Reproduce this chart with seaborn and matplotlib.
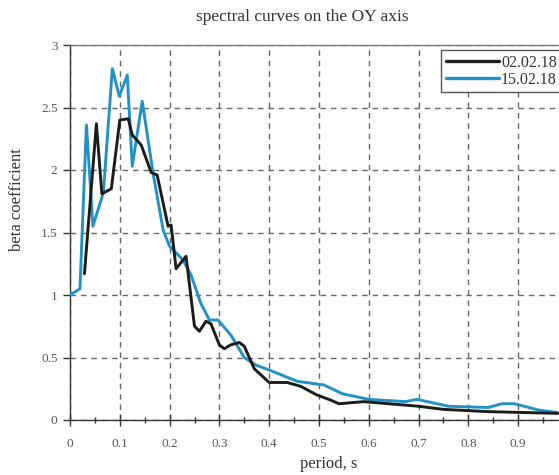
import matplotlib
matplotlib.use("Agg")
import matplotlib.pyplot as plt
import seaborn as sns
import pandas as pd
from matplotlib.ticker import MultipleLocator
from matplotlib.lines import Line2D
from matplotlib.patches import Rectangle

# ---- data ----
black_label = "02.02.18"
blue_label = "15.02.18"

black_x = [0.029, 0.053, 0.064, 0.083, 0.100, 0.117, 0.125, 0.143, 0.163, 0.175,
           0.197, 0.203, 0.213, 0.233, 0.250, 0.260, 0.273, 0.283, 0.300, 0.310,
           0.322, 0.340, 0.350, 0.370, 0.400, 0.436, 0.463, 0.496, 0.523, 0.540,
           0.590, 0.700, 0.750, 0.840, 0.980]
black_y = [1.17, 2.37, 1.81, 1.85, 2.40, 2.41, 2.28, 2.20, 1.98, 1.96,
           1.55, 1.56, 1.21, 1.31, 0.75, 0.71, 0.79, 0.77, 0.60, 0.57,
           0.60, 0.62, 0.59, 0.41, 0.30, 0.30, 0.27, 0.20, 0.16, 0.13,
           0.147, 0.11, 0.085, 0.067, 0.053]

blue_x = [0.000, 0.020, 0.033, 0.046, 0.067, 0.085, 0.099, 0.115, 0.125, 0.145,
          0.167, 0.187, 0.200, 0.227, 0.243, 0.263, 0.280, 0.297, 0.323, 0.350,
          0.373, 0.400, 0.456, 0.510, 0.547, 0.600, 0.673, 0.697, 0.760, 0.840,
          0.867, 0.893, 0.940, 0.978]
blue_y = [1.00, 1.05, 2.36, 1.55, 1.82, 2.81, 2.59, 2.76, 2.03, 2.55,
          1.97, 1.52, 1.39, 1.28, 1.16, 0.93, 0.80, 0.80, 0.68, 0.50,
          0.44, 0.40, 0.31, 0.28, 0.21, 0.165, 0.147, 0.165, 0.11, 0.10,
          0.13, 0.13, 0.08, 0.06]

x_ticks = [0, 0.1, 0.2, 0.3, 0.4, 0.5, 0.6, 0.7, 0.8, 0.9]
x_tick_labels = ["0", "0.1", "0.2", "0.3", "0.4", "0.5", "0.6", "0.7", "0.8", "0.9"]
y_ticks = [0, 0.5, 1, 1.5, 2, 2.5, 3]
y_tick_labels = ["0", "0.5", "1", "1.5", "2", "2.5", "3"]

title = "spectral curves on the OY axis"
xlabel = "period, s"
ylabel = "beta coefficient"

# ---- style ----
sns.set_theme(style="white")
plt.rcParams["font.family"] = ["Liberation Serif", "DejaVu Serif"]

BLACK = "#1c1c1c"
BLUE = "#2291c6"
GRID = "#666666"
TXT = "#555555"

fig = plt.figure(figsize=(5.59, 4.75), dpi=100)
W, H = 559, 475
left, right, top, bottom = 70, 559, 45, 420
ax = fig.add_axes([left / W, 1 - bottom / H, (right - left) / W, (bottom - top) / H])

df_black = pd.DataFrame({"x": black_x, "y": black_y})
df_blue = pd.DataFrame({"x": blue_x, "y": blue_y})

sns.lineplot(data=df_blue, x="x", y="y", ax=ax, color=BLUE, lw=2.1,
             sort=False, estimator=None, zorder=3)
sns.lineplot(data=df_black, x="x", y="y", ax=ax, color=BLACK, lw=2.1,
             sort=False, estimator=None, zorder=4)

ax.set_xlim(0, (right - left) / 498 * 1.0)
ax.set_ylim(0, 3)
ax.set_xticks(x_ticks)
ax.set_xticklabels(x_tick_labels)
ax.set_yticks(y_ticks)
ax.set_yticklabels(y_tick_labels)
ax.xaxis.set_minor_locator(MultipleLocator(0.05))

ax.grid(True, which="major", linestyle=(0, (4, 3.5)), color=GRID, lw=1.0)
ax.set_axisbelow(True)

for s in ["left", "bottom"]:
    ax.spines[s].set_color("#333333")
    ax.spines[s].set_linewidth(1.0)
ax.spines["top"].set_color("#777777")
ax.spines["top"].set_linewidth(1.0)
ax.spines["right"].set_visible(False)

ax.tick_params(axis="x", which="major", direction="inout", length=8, width=1,
               color="#333333", labelsize=9.5, labelcolor=TXT, pad=9, bottom=True)
ax.tick_params(axis="x", which="minor", direction="inout", length=4, width=1,
               color="#333333", bottom=True)
ax.tick_params(axis="y", which="major", direction="out", length=5, width=1,
               color="#333333", labelsize=9.5, labelcolor=TXT, pad=4, left=True)

ax.set_xlabel("")
ax.set_ylabel("")
fig.text(329 / W, 1 - 464 / H, xlabel, ha="center", va="center", fontsize=12, color="#333333")
fig.text(17 / W, 1 - 200 / H, ylabel, ha="center", va="center", fontsize=12,
         color="#333333", rotation=90)
fig.text(302 / W, 1 - 17 / H, title, ha="center", va="center", fontsize=12.5, color="#333333")

# legend box running off the right edge of the figure
box = Rectangle((441 / W, 1 - 92 / H), 160 / W, 42 / H, transform=fig.transFigure,
                facecolor="white", edgecolor="#555555", lw=1.0, zorder=9, clip_on=False)
ax.add_patch(box)

handles = [Line2D([], [], color=BLACK, lw=2.4), Line2D([], [], color=BLUE, lw=2.4)]
leg = ax.legend(handles, [black_label, blue_label], loc="upper left",
                bbox_to_anchor=(441 / W, 1 - 50 / H), bbox_transform=fig.transFigure,
                fontsize=11.5, frameon=False, handlelength=3.3,
                handletextpad=0.15, borderpad=0.3, labelspacing=0.05, borderaxespad=0)
leg.set_zorder(10)
for t in leg.get_texts():
    t.set_color("#333333")

fig.savefig("out.png", dpi=100)
